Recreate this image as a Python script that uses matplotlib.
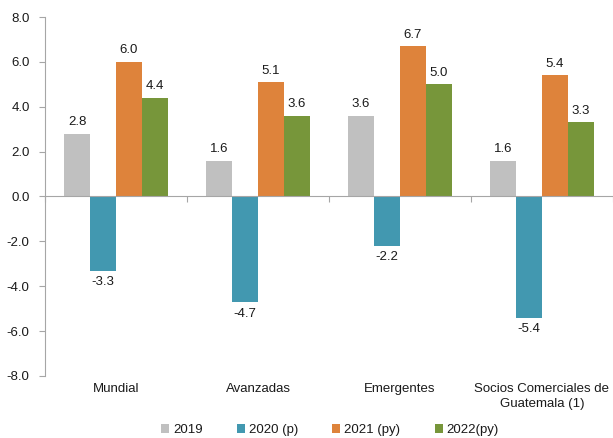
import matplotlib
matplotlib.use("Agg")
import matplotlib.pyplot as plt
import numpy as np
from matplotlib.transforms import blended_transform_factory

plt.rcParams['font.family'] = ['Liberation Sans', 'DejaVu Sans']

categories = ["Mundial", "Avanzadas", "Emergentes", "Socios Comerciales de\nGuatemala (1)"]
series_names = ["2019", "2020 (p)", "2021 (py)", "2022(py)"]
v2019 = [2.8, 1.6, 3.6, 1.6]
v2020 = [-3.3, -4.7, -2.2, -5.4]
v2021 = [6.0, 5.1, 6.7, 5.4]
v2022 = [4.4, 3.6, 5.0, 3.3]
yticks = [-8.0, -6.0, -4.0, -2.0, 0.0, 2.0, 4.0, 6.0, 8.0]

colors = ["#C0C0C0", "#4298B0", "#DE833B", "#77963A"]
fs = 9.5

W, H = 613, 438
fig = plt.figure(figsize=(W / 100, H / 100), dpi=100)
ax = fig.add_axes([45 / W, 1 - 376 / H, 568 / W, (376 - 17) / H])

x = np.arange(len(categories))
bw = 0.183
series = [v2019, v2020, v2021, v2022]
for i, (vals, name, c) in enumerate(zip(series, series_names, colors)):
    pos = x + (i - 1.5) * bw
    ax.bar(pos, vals, width=bw, color=c, label=name, zorder=2)
    for px, v in zip(pos, vals):
        if v >= 0:
            ax.annotate(f"{v:.1f}", (px, v), xytext=(0, 4), textcoords="offset points",
                        ha="center", va="bottom", fontsize=fs, color="#1a1a1a")
        else:
            ax.annotate(f"{v:.1f}", (px, v), xytext=(0, -4), textcoords="offset points",
                        ha="center", va="top", fontsize=fs, color="#1a1a1a")

ax.set_xlim(-0.5, len(categories) - 0.5)
ax.set_ylim(-8, 8)
ax.set_yticks(yticks)
ax.set_yticklabels([f"{t:.1f}" for t in yticks], fontsize=fs, color="#1a1a1a")

for s in ["top", "right"]:
    ax.spines[s].set_visible(False)
ax.spines["left"].set_color("#A6A6A6")
ax.spines["bottom"].set_position(("data", 0))
ax.spines["bottom"].set_color("#A6A6A6")
ax.spines["bottom"].set_zorder(3)
ax.tick_params(axis="y", length=4, color="#A6A6A6", pad=7)
ax.set_xticks(np.arange(len(categories) + 1) - 0.5)
ax.set_xticklabels([])
ax.tick_params(axis="x", length=4, color="#A6A6A6", direction="out")

tr = blended_transform_factory(ax.transData, ax.transAxes)
for xi, cat in zip(x, categories):
    ax.text(xi, -0.02, cat, transform=tr, ha="center", va="top", fontsize=fs,
            color="#1a1a1a", linespacing=1.35)

leg = fig.legend(loc="center", bbox_to_anchor=(330 / W, 1 - 430 / H), ncol=4,
                 frameon=False, fontsize=fs, handlelength=0.6, handleheight=0.6,
                 handletextpad=0.3, columnspacing=2.6)
for t in leg.get_texts():
    t.set_color("#1a1a1a")

fig.savefig("out.png", dpi=100)
